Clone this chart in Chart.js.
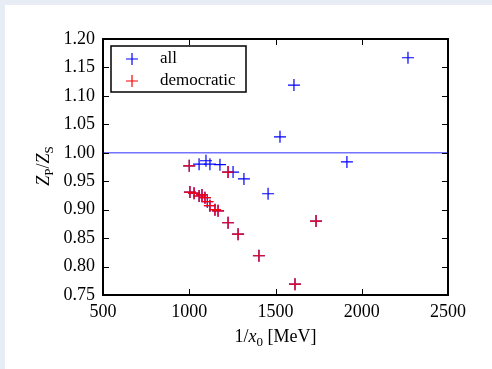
<!DOCTYPE html>
<html>
<head>
<meta charset="utf-8">
<script src="https://cdn.jsdelivr.net/npm/chart.js@4.4.1/dist/chart.umd.min.js"></script>
<style>
  html, body { margin: 0; padding: 0; background: #e8ecf4; }
  #panel { position: absolute; left: 5px; top: 5px; width: 487px; height: 364px; background: #fff; }
  #wrap { position: absolute; left: 0; top: 0; width: 492px; height: 369px; }
</style>
</head>
<body>
<div id="panel"></div>
<div id="wrap"><canvas id="zpChart" width="492" height="369"></canvas></div>
<script>
// Z_P / Z_S against 1/x0
const allX = [1000, 1057, 1097, 1120, 1178, 1225, 1254, 1317, 1457, 1526, 1607, 1914, 2268,
              1004, 1028, 1057, 1074, 1091, 1105, 1120, 1149, 1167, 1225, 1283, 1404, 1613, 1735];
const allY = [0.977, 0.980, 0.986, 0.980, 0.979, 0.966, 0.966, 0.954, 0.928, 1.028, 1.119, 0.984, 1.167,
              0.931, 0.929, 0.924, 0.926, 0.921, 0.914, 0.907, 0.900, 0.898, 0.877, 0.857, 0.819, 0.769, 0.880];
const demX = [1000, 1225, 1004, 1028, 1057, 1074, 1091, 1105, 1120, 1149, 1167, 1225, 1283, 1404, 1613, 1735];
const demY = [0.977, 0.966, 0.931, 0.929, 0.924, 0.926, 0.921, 0.914, 0.907, 0.900, 0.898, 0.877, 0.857, 0.819, 0.769, 0.880];
const refLineX = [500, 2500];
const refLineY = [1.0, 1.0];
const xTicks = [500, 1000, 1500, 2000, 2500];
const yTicks = [0.75, 0.80, 0.85, 0.90, 0.95, 1.00, 1.05, 1.10, 1.15, 1.20];

const serif = 'Liberation Serif';
const toPoints = (xs, ys) => xs.map((v, i) => ({ x: v, y: ys[i] }));

// cadre, graduations intérieures, légende et titres d'axes
const framePlugin = {
    id: 'frame',
    afterDraw(chart) {
        const { ctx, chartArea: a, scales: { x, y } } = chart;
        ctx.save();
        ctx.strokeStyle = '#000';
        ctx.lineWidth = 1;
        ctx.beginPath();
        xTicks.forEach(v => {
            const px = Math.round(x.getPixelForValue(v)) + 0.5;
            ctx.moveTo(px, a.bottom); ctx.lineTo(px, a.bottom - 6);
            ctx.moveTo(px, a.top); ctx.lineTo(px, a.top + 6);
        });
        yTicks.forEach(v => {
            const py = Math.round(y.getPixelForValue(v)) + 0.5;
            ctx.moveTo(a.left, py); ctx.lineTo(a.left + 6, py);
            ctx.moveTo(a.right, py); ctx.lineTo(a.right - 6, py);
        });
        ctx.stroke();
        ctx.lineWidth = 2;
        ctx.strokeRect(a.left, a.top, a.right - a.left, a.bottom - a.top);

        // légende
        const lx = a.left + 8, ly = a.top + 7, lw = 135, lh = 46;
        ctx.fillStyle = '#fff';
        ctx.fillRect(lx, ly, lw, lh);
        ctx.lineWidth = 1.5;
        ctx.strokeRect(lx, ly, lw, lh);
        const items = chart.data.datasets.filter(d => d.inLegend);
        ctx.font = '17px "' + serif + '"';
        ctx.textBaseline = 'middle';
        ctx.textAlign = 'left';
        items.forEach((d, i) => {
            const cy = ly + 13 + i * 22, cx = lx + 21;
            ctx.strokeStyle = d.borderColor;
            ctx.lineWidth = 1.2;
            ctx.beginPath();
            ctx.moveTo(cx - 6, cy); ctx.lineTo(cx + 6, cy);
            ctx.moveTo(cx, cy - 6); ctx.lineTo(cx, cy + 6);
            ctx.stroke();
            ctx.fillStyle = '#000';
            ctx.fillText(d.label, lx + 49, cy);
        });

        // titres
        ctx.fillStyle = '#000';
        ctx.textBaseline = 'alphabetic';
        const big = '18px "' + serif + '"', bigIt = 'italic 18px "' + serif + '"', small = '13px "' + serif + '"';
        const drawRun = (parts, cx, cy) => {
            let w = 0;
            parts.forEach(p => { ctx.font = p[1]; w += ctx.measureText(p[0]).width; });
            let px = cx - w / 2;
            parts.forEach(p => {
                ctx.font = p[1];
                ctx.fillText(p[0], px, cy + (p[2] || 0));
                px += ctx.measureText(p[0]).width;
            });
        };
        drawRun([['1/', big], ['x', bigIt], ['0', small, 4], [' [MeV]', big]], (a.left + a.right) / 2, 342);
        ctx.translate(49, (a.top + a.bottom) / 2 - 1);
        ctx.rotate(-Math.PI / 2);
        drawRun([['Z', bigIt], ['P', small, 4], ['/', big], ['Z', bigIt], ['S', small, 4]], 0, 0);
        ctx.restore();
    }
};

const ctx = document.getElementById('zpChart').getContext('2d');
const zpChart = new Chart(ctx, {
    type: 'scatter',
    data: {
        datasets: [
            {
                label: 'all',
                inLegend: true,
                data: toPoints(allX, allY),
                borderColor: '#0000ff',
                backgroundColor: '#0000ff',
                pointStyle: 'cross',
                pointRadius: 6,
                pointBorderWidth: 1.2,
                order: 1
            },
            {
                label: 'democratic',
                inLegend: true,
                data: toPoints(demX, demY),
                borderColor: '#ff0000',
                backgroundColor: '#ff0000',
                pointStyle: 'cross',
                pointRadius: 6,
                pointBorderWidth: 1.2,
                order: 0
            },
            {
                type: 'line',
                label: 'Z_P/Z_S = 1',
                inLegend: false,
                data: toPoints(refLineX, refLineY),
                borderColor: 'rgba(70, 70, 255, 0.75)',
                borderWidth: 1.5,
                pointRadius: 0,
                order: 2
            }
        ]
    },
    options: {
        responsive: false,
        animation: false,
        devicePixelRatio: 1,
        layout: { padding: { top: 39, right: 44, left: 0, bottom: 0 } },
        plugins: { legend: { display: false }, tooltip: { enabled: false } },
        scales: {
            x: {
                type: 'linear',
                min: 500,
                max: 2500,
                afterFit: s => { s.height = 74; },
                afterBuildTicks: s => { s.ticks = xTicks.map(v => ({ value: v })); },
                ticks: { color: '#000', font: { family: serif, size: 18 }, padding: 6, maxRotation: 0,
                         callback: v => String(v) },
                grid: { display: false, drawTicks: false },
                border: { display: false }
            },
            y: {
                min: 0.75,
                max: 1.2,
                afterFit: s => { s.width = 103; },
                afterBuildTicks: s => { s.ticks = yTicks.map(v => ({ value: v })); },
                ticks: { color: '#000', font: { family: serif, size: 18 }, padding: 8,
                         callback: v => Number(v).toFixed(2) },
                grid: { display: false, drawTicks: false },
                border: { display: false }
            }
        }
    },
    plugins: [framePlugin]
});
</script>
</body>
</html>
